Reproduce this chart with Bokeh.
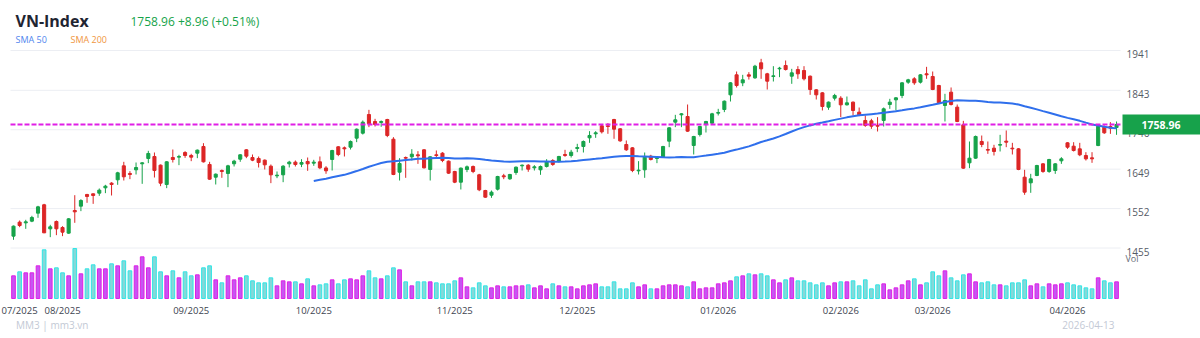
import pandas as pd
from bokeh.plotting import figure
from bokeh.models import Range1d, Label, ColumnDataSource
from bokeh.core.properties import value
from bokeh.embed import file_html
from bokeh.resources import INLINE

# ---------------- data ----------------
opens = [
    1484.2, 1518.6, 1516.9, 1521.1, 1540.8, 1561.3, 1502.2, 1520.2, 1505.5, 1491.6,
    1547.3, 1558.0, 1586.7, 1588.3, 1590.0, 1603.1, 1614.6, 1622.8, 1657.2, 1638.4,
    1647.4, 1662.2, 1675.3, 1680.2, 1658.9, 1611.3, 1677.7, 1678.6, 1690.0, 1682.7,
    1688.4, 1704.8, 1660.5, 1629.3, 1645.8, 1638.4, 1662.2, 1673.6, 1696.6, 1677.7,
    1675.3, 1671.2, 1656.4, 1632.6, 1635.1, 1662.2, 1666.3, 1661.3, 1667.9, 1663.8,
    1667.1, 1652.0, 1672.8, 1704.0, 1701.5, 1703.1, 1725.3, 1737.6, 1783.5, 1766.3,
    1763.9, 1771.2, 1722.8, 1641.6, 1677.7, 1679.4, 1684.3, 1696.6, 1648.2, 1684.3,
    1688.4, 1668.7, 1643.3, 1617.0, 1648.2, 1655.6, 1635.1, 1596.5, 1585.0, 1599.8,
    1632.6, 1625.2, 1640.8, 1657.2, 1658.8, 1652.3, 1647.4, 1655.6, 1670.4, 1667.9,
    1685.1, 1682.6, 1699.9, 1704.8, 1726.1, 1736.0, 1755.6, 1755.6, 1771.2, 1748.3,
    1709.7, 1701.5, 1644.9, 1647.4, 1681.0, 1675.3, 1678.5, 1717.9, 1764.7, 1782.7,
    1778.6, 1707.3, 1734.3, 1758.9, 1762.2, 1786.8, 1795.8, 1831.9, 1881.1, 1861.4,
    1881.1, 1873.7, 1910.7, 1883.6, 1877.0, 1895.9, 1904.1, 1877.8, 1894.2, 1891.8,
    1877.8, 1844.2, 1836.8, 1801.6, 1823.7, 1823.7, 1807.3, 1813.9, 1789.3, 1768.8,
    1767.9, 1756.5, 1768.8, 1808.1, 1819.6, 1830.3, 1863.1, 1871.3, 1863.1, 1883.6,
    1877.0, 1854.9, 1805.7, 1838.5, 1801.6, 1758.1, 1664.6, 1676.1, 1717.1, 1697.4,
    1700.7, 1708.1, 1717.9, 1700.7, 1699.0, 1629.3, 1615.4, 1633.4, 1662.1, 1643.3,
    1645.7, 1669.5, 1713.8, 1705.6, 1699.0, 1682.6, 1676.9, 1707.2, 1752.4, 1754.0,
    1751.5,
]
highs = [
    1510.4, 1522.7, 1524.4, 1534.2, 1558.8, 1563.7, 1512.1, 1522.7, 1508.8, 1528.5,
    1585.0, 1575.2, 1588.3, 1589.2, 1601.5, 1610.5, 1617.0, 1642.5, 1667.1, 1644.1,
    1665.4, 1666.3, 1694.1, 1690.0, 1660.5, 1668.7, 1697.4, 1684.3, 1693.3, 1686.8,
    1697.4, 1713.0, 1667.1, 1638.4, 1648.2, 1659.7, 1672.0, 1685.9, 1698.2, 1685.1,
    1680.2, 1672.8, 1660.5, 1643.3, 1658.9, 1669.5, 1670.4, 1673.6, 1677.7, 1672.0,
    1680.2, 1656.4, 1696.6, 1705.6, 1704.8, 1719.6, 1749.1, 1768.8, 1795.0, 1772.9,
    1768.8, 1772.9, 1727.8, 1676.1, 1680.2, 1698.2, 1693.3, 1698.2, 1681.0, 1695.0,
    1690.9, 1670.4, 1644.9, 1653.1, 1658.0, 1658.0, 1637.5, 1598.2, 1596.5, 1632.6,
    1637.5, 1637.5, 1655.6, 1660.5, 1661.3, 1658.8, 1658.0, 1673.6, 1673.6, 1681.8,
    1696.6, 1696.6, 1711.4, 1719.6, 1742.5, 1742.5, 1758.9, 1762.2, 1772.9, 1749.9,
    1719.6, 1703.1, 1668.7, 1690.0, 1684.3, 1680.2, 1706.4, 1752.4, 1782.7, 1786.8,
    1808.1, 1731.0, 1755.6, 1767.9, 1787.6, 1797.5, 1818.0, 1863.1, 1889.3, 1881.1,
    1887.7, 1905.7, 1920.5, 1886.0, 1902.4, 1900.8, 1916.4, 1895.9, 1902.4, 1902.4,
    1879.5, 1845.9, 1838.5, 1815.5, 1834.4, 1828.6, 1827.8, 1815.5, 1800.7, 1781.1,
    1772.9, 1777.0, 1800.7, 1822.1, 1826.2, 1863.1, 1871.3, 1875.4, 1882.8, 1900.8,
    1889.3, 1856.5, 1834.4, 1850.0, 1808.1, 1767.9, 1717.1, 1731.8, 1731.8, 1717.1,
    1708.9, 1733.5, 1744.2, 1713.8, 1700.7, 1647.4, 1637.5, 1659.7, 1663.8, 1674.4,
    1663.8, 1678.5, 1715.4, 1715.4, 1713.8, 1690.8, 1690.8, 1756.5, 1756.5, 1764.7,
    1766.3,
]
lows = [
    1475.2, 1506.3, 1502.2, 1518.6, 1529.3, 1491.6, 1481.7, 1486.6, 1484.2, 1489.9,
    1517.0, 1545.7, 1566.2, 1563.7, 1583.4, 1590.0, 1584.2, 1610.5, 1621.1, 1624.4,
    1635.9, 1612.9, 1663.8, 1628.5, 1607.2, 1602.3, 1665.4, 1658.9, 1676.9, 1668.7,
    1676.1, 1665.4, 1622.8, 1611.3, 1627.7, 1604.7, 1655.6, 1667.1, 1676.1, 1668.7,
    1653.1, 1648.2, 1614.6, 1626.9, 1617.0, 1653.1, 1655.6, 1654.0, 1644.9, 1657.2,
    1649.0, 1637.6, 1645.7, 1681.0, 1680.2, 1697.4, 1715.5, 1734.3, 1752.4, 1754.0,
    1753.2, 1727.8, 1634.3, 1621.1, 1627.7, 1670.4, 1662.1, 1650.7, 1621.1, 1674.4,
    1666.2, 1637.5, 1614.6, 1599.0, 1641.6, 1639.2, 1594.9, 1578.5, 1578.5, 1596.5,
    1624.4, 1622.8, 1635.1, 1645.7, 1642.5, 1645.7, 1635.1, 1653.1, 1657.2, 1665.4,
    1679.4, 1677.7, 1690.8, 1690.0, 1713.8, 1726.1, 1736.8, 1736.0, 1723.7, 1716.3,
    1694.1, 1641.6, 1635.9, 1627.7, 1670.4, 1663.8, 1676.9, 1703.1, 1752.4, 1752.4,
    1740.9, 1685.1, 1729.4, 1739.2, 1758.9, 1781.1, 1789.3, 1815.5, 1850.0, 1853.2,
    1869.6, 1871.3, 1871.3, 1845.0, 1864.7, 1875.4, 1891.8, 1859.0, 1871.3, 1867.2,
    1831.9, 1820.4, 1793.4, 1795.0, 1818.0, 1777.0, 1805.7, 1781.1, 1779.4, 1753.2,
    1748.2, 1741.7, 1754.0, 1797.5, 1793.4, 1823.7, 1859.0, 1856.5, 1859.8, 1871.3,
    1843.4, 1809.8, 1766.3, 1805.7, 1764.7, 1649.8, 1651.5, 1674.4, 1703.1, 1686.7,
    1682.6, 1692.5, 1703.1, 1685.1, 1646.5, 1585.9, 1590.8, 1631.8, 1640.0, 1640.0,
    1637.5, 1662.1, 1699.0, 1692.5, 1681.0, 1670.3, 1664.6, 1705.6, 1735.9, 1735.9,
    1733.5,
]
closes = [
    1508.8, 1510.4, 1519.4, 1530.1, 1556.3, 1492.4, 1507.1, 1502.2, 1494.0, 1526.8,
    1544.0, 1571.9, 1581.8, 1584.2, 1597.4, 1607.2, 1611.3, 1640.0, 1630.2, 1635.9,
    1653.1, 1664.6, 1687.6, 1645.8, 1614.6, 1667.1, 1672.8, 1680.2, 1682.7, 1678.6,
    1695.8, 1667.1, 1624.4, 1636.7, 1643.3, 1657.2, 1668.7, 1684.3, 1681.0, 1671.2,
    1665.4, 1659.7, 1635.1, 1634.3, 1656.4, 1666.3, 1660.5, 1665.4, 1662.2, 1666.3,
    1652.3, 1645.0, 1694.9, 1685.1, 1699.1, 1717.1, 1747.4, 1764.7, 1760.6, 1758.9,
    1766.3, 1731.9, 1635.9, 1663.0, 1676.1, 1685.9, 1681.8, 1652.3, 1679.4, 1682.6,
    1670.4, 1639.2, 1617.0, 1651.5, 1654.8, 1643.3, 1598.2, 1580.1, 1592.4, 1631.0,
    1630.2, 1635.9, 1653.9, 1658.8, 1649.0, 1654.8, 1655.6, 1667.9, 1660.5, 1680.2,
    1682.6, 1690.8, 1702.3, 1717.1, 1731.9, 1738.4, 1740.9, 1754.0, 1747.4, 1718.7,
    1696.6, 1645.7, 1646.6, 1678.5, 1672.8, 1676.9, 1704.8, 1750.7, 1770.4, 1785.2,
    1742.5, 1729.4, 1754.0, 1766.3, 1785.2, 1788.5, 1816.3, 1861.4, 1854.9, 1868.8,
    1877.8, 1902.4, 1895.9, 1865.5, 1878.7, 1897.5, 1894.2, 1886.0, 1883.6, 1871.3,
    1845.0, 1831.9, 1803.2, 1813.9, 1830.3, 1807.3, 1812.2, 1793.4, 1782.7, 1756.5,
    1754.8, 1754.8, 1797.5, 1813.9, 1824.5, 1861.4, 1868.8, 1861.4, 1881.1, 1881.1,
    1845.0, 1812.2, 1818.0, 1808.1, 1766.3, 1651.5, 1676.1, 1729.4, 1709.7, 1695.8,
    1692.5, 1709.7, 1715.4, 1699.0, 1648.2, 1592.4, 1625.2, 1658.0, 1643.3, 1672.8,
    1662.1, 1674.4, 1703.1, 1695.0, 1684.3, 1674.4, 1674.4, 1754.8, 1738.4, 1750.0,
    1758.96,
]
volumes = [
    1133, 1333, 1283, 1283, 1633, 2433, 1483, 1533, 1283, 1133,
    2500, 1233, 1483, 1683, 1483, 1483, 1733, 1633, 1883, 1383,
    1633, 2083, 1533, 2083, 1333, 1133, 1383, 1033, 1333, 1133,
    1183, 1533, 1633, 933, 783, 1133, 933, 1033, 1133, 883,
    783, 783, 1033, 633, 883, 833, 833, 733, 983, 633,
    683, 733, 933, 733, 933, 983, 933, 1133, 1383, 1033,
    983, 1133, 1533, 1433, 833, 633, 833, 833, 833, 783,
    733, 733, 883, 1033, 583, 533, 783, 633, 533, 633,
    583, 583, 633, 633, 683, 533, 633, 483, 733, 633,
    583, 583, 483, 633, 683, 733, 583, 583, 833, 483,
    483, 783, 583, 683, 483, 483, 633, 683, 683, 633,
    583, 833, 483, 533, 533, 733, 783, 883, 1083, 1133,
    1233, 1183, 1233, 1133, 933, 783, 933, 1033, 883, 883,
    783, 683, 783, 633, 783, 833, 833, 883, 633, 933,
    483, 683, 733, 433, 533, 683, 883, 983, 683, 783,
    1333, 1133, 1383, 1033, 883, 1183, 1233, 833, 783, 833,
    683, 683, 633, 783, 783, 933, 633, 733, 583, 733,
    683, 733, 783, 683, 633, 533, 483, 1033, 883, 783,
    833,
]
month_ticks = [0, 8, 29, 49, 72, 92, 115, 135, 150, 172]
month_labels = ["07/2025", "08/2025", "09/2025", "10/2025", "11/2025",
                "12/2025", "01/2026", "02/2026", "03/2026", "04/2026"]
price_ticks = [1455, 1552, 1649, 1746, 1843, 1941]
symbol = "VN-Index"
last_date = "2026-04-13"
sma_period = 50

# ---------------- derived ----------------
n = len(closes)
idx = list(range(n))
up = [c >= o for o, c in zip(opens, closes)]
GREEN, RED = "#16a34a", "#dc2626"
src = ColumnDataSource(dict(
    x=idx, h=highs, l=lows,
    top=[max(o, c) for o, c in zip(opens, closes)],
    bot=[min(o, c) for o, c in zip(opens, closes)],
    col=[GREEN if u else RED for u in up],
    vol=volumes,
    vfill=["#c656f2" if u else "#86d8d8" for u in up],
    vline=["#e01fe6" if u else "#2fe6e6" for u in up],
))
sma = pd.Series(closes).rolling(sma_period).mean()
last = closes[-1]
chg = closes[-1] - closes[-2]
pct = chg / closes[-2] * 100

# ---------------- layout geometry (pixels) ----------------
W, H = 1200, 338
BAR_PX = 6.128          # pixels per trading day
X0_PX = 13              # canvas x of first bar
PANE_L, PANE_R = 10, 1120
PT_PER_PX = 2.4606      # price points per pixel
Y_1941 = 50             # canvas y of the 1941 grid line
VOL_BASE = 298          # canvas y of volume baseline
VOL_PER_PX = 50


def bx(px):  # canvas x -> bar index
    return (px - X0_PX) / BAR_PX


price_top = 1941 + Y_1941 * PT_PER_PX
price_bot = 1941 - (H - Y_1941) * PT_PER_PX

p = figure(width=W, height=H, output_backend="svg", toolbar_location=None,
           x_range=Range1d(bx(0), bx(W)), y_range=Range1d(price_bot, price_top),
           x_axis_location=None, y_axis_location=None, min_border=0)
p.min_border_left = p.min_border_right = p.min_border_top = p.min_border_bottom = 0
p.outline_line_color = None
p.background_fill_color = "white"
p.border_fill_color = "white"
p.xgrid.visible = False
p.ygrid.visible = False
p.extra_y_ranges = {"vol": Range1d(-(H - VOL_BASE) * VOL_PER_PX, VOL_BASE * VOL_PER_PX)}

# horizontal grid lines across the chart pane
p.segment(x0=[bx(PANE_L)] * len(price_ticks), y0=price_ticks,
          x1=[bx(PANE_R)] * len(price_ticks), y1=price_ticks,
          line_color="#eceef3", line_width=1)

# volume
p.vbar(x="x", top="vol", bottom=0, width=0.6, source=src, y_range_name="vol",
       fill_color="vfill", line_color="vline", line_width=1)

# candles
p.segment(x0="x", y0="h", x1="x", y1="l", source=src, line_color="col", line_width=1)
p.vbar(x="x", top="top", bottom="bot", width=0.5, source=src,
       fill_color="col", line_color="col", line_width=1)

# SMA 50
p.line(idx[sma_period - 1:], list(sma.values[sma_period - 1:]),
       line_color="#2f6fec", line_width=2)

# last price line across the chart pane
p.segment(x0=[bx(PANE_L)], y0=[last], x1=[bx(PANE_R)], y1=[last],
          line_color="#e01fe6", line_dash="5 2", line_width=1.8)

FONT = "Open Sans"

# right price scale labels (just below their grid line)
p.text(x=[bx(PANE_R + 6)] * len(price_ticks), y=price_ticks,
       text=[str(t) for t in price_ticks], text_font=value(FONT),
       text_font_size="10px", text_color="#555b66", text_align="left",
       text_baseline="middle", y_offset=3.5)

# month labels (the first one kept inside the picture's left edge)
p.text(x=month_ticks[1:], y=[price_bot] * (len(month_ticks) - 1), text=month_labels[1:],
       text_font=value(FONT), text_font_size="9.5px", text_color="#3d4450",
       text_align="center", text_baseline="middle", y_offset=-(H - 310))
p.text(x=[bx(1)], y=[price_bot], text=month_labels[:1],
       text_font=value(FONT), text_font_size="9.5px", text_color="#3d4450",
       text_align="left", text_baseline="middle", y_offset=-(H - 310))


def lab(text, cx, cy, size, color, bold=False, align="left"):
    return Label(x=cx, y=H - cy, x_units="screen", y_units="screen",
                 text=text, text_font=FONT, text_font_size=size,
                 text_color=color, text_font_style="bold" if bold else "normal",
                 text_align=align, text_baseline="middle")


p.add_layout(lab(symbol, 15, 20, "16px", "#1f2532", bold=True))
p.add_layout(lab(f"{last:.2f} {chg:+.2f} ({pct:+.2f}%)", 130, 21, "12px", "#16a34a"))
p.add_layout(lab("SMA 50", 15, 38.5, "9px", "#4f86ee"))
p.add_layout(lab("SMA 200", 70, 38.5, "9px", "#f0963e"))
p.add_layout(lab("MM3 | mm3.vn", 15.5, 324.5, "10px", "#c3c9d5"))
p.add_layout(lab(last_date, 1114, 324.5, "10px", "#c3c9d5", align="right"))
p.add_layout(lab("Vol", 1125, 257.5, "9px", "#666c77"))

# last price tag: green box on the price scale with the value in white
TAG_HALF_PX = 10
p.quad(left=[bx(1122)], right=[bx(W + 2)],
       top=[last + TAG_HALF_PX * PT_PER_PX], bottom=[last - TAG_HALF_PX * PT_PER_PX],
       fill_color="#17a24b", line_color=None)
p.text(x=[bx(1160.5)], y=[last], text=[f"{last:.2f}"], text_font=value(FONT),
       text_font_size="10.5px", text_font_style="bold", text_color="white",
       text_align="center", text_baseline="middle", y_offset=1)

open("out.html", "w").write(file_html(p, INLINE))
